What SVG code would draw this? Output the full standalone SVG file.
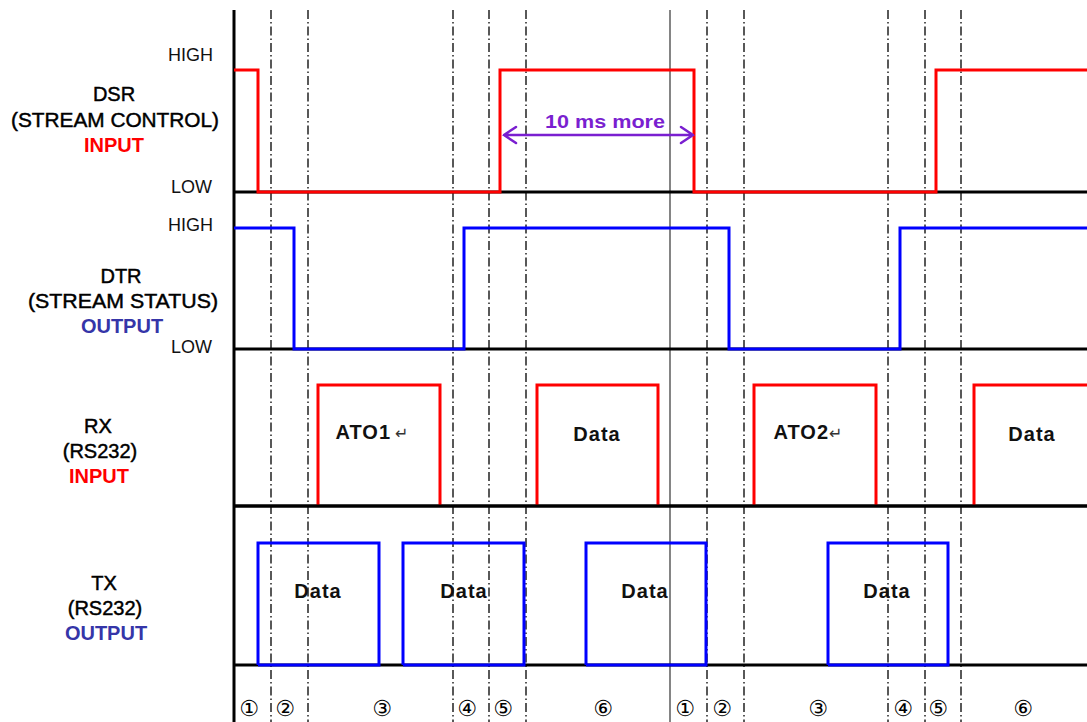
<svg xmlns="http://www.w3.org/2000/svg" width="1087" height="722" viewBox="0 0 1087 722">
<defs>
<style>
.lbl{font-family:"Liberation Sans",Arial,sans-serif;font-size:20px;fill:#000;stroke:#000;stroke-width:0.45;text-anchor:middle}
.hl{font-family:"Liberation Sans",Arial,sans-serif;font-size:18px;fill:#111;text-anchor:end}
.in{fill:#ff0000;stroke:none;font-weight:bold}
.out{fill:#3535a8;stroke:none;font-weight:bold}
.dat{font-family:"Liberation Sans",Arial,sans-serif;font-size:20px;font-weight:bold;letter-spacing:1px;fill:#111;text-anchor:middle}
.num{font-family:"DejaVu Sans",sans-serif;font-size:22px;fill:#000;text-anchor:middle}
.dd{stroke:#222;stroke-width:1.5;stroke-dasharray:9 3 1.5 3;fill:none}
.base{stroke:#000;stroke-width:3;fill:none}
.red{stroke:#ff0000;stroke-width:3;fill:none;stroke-linejoin:miter}
.blue{stroke:#0000ff;stroke-width:3;fill:none;stroke-linejoin:miter}
.arr{stroke:#7a1fd0;stroke-width:2.5;fill:none;stroke-linecap:round}
.ret{font-family:"DejaVu Sans",sans-serif;font-size:16px;font-weight:normal;letter-spacing:0;fill:#333}
</style>
</defs>
<rect width="1087" height="722" fill="#fff"/>
<g id="grid">
<path class="dd" d="M271,10V722M308,10V722M453,10V722M489,10V722M526,10V722M707,10V722M744,10V722M888,10V722M925,10V722M961,10V722"/>
<path d="M670,10V722" stroke="#333" stroke-width="1.2" fill="none"/>
</g>
<g id="connectors">
<path class="base" d="M234,10V722M234,192H1087M234,349H1087M234,506H1087M234,665H1087"/>
</g>
<g id="dsr">
<path class="red" d="M234,70H258V192H500V70H694V192H936V70H1087"/>
<text class="hl" x="213" y="61">HIGH</text>
<text class="hl" x="212" y="193">LOW</text>
<text class="lbl" x="114" y="101">DSR</text>
<text class="lbl" x="115" y="127" textLength="208" lengthAdjust="spacingAndGlyphs">(STREAM CONTROL)</text>
<text class="lbl in" x="114" y="152">INPUT</text>
</g>
<g id="dsr-arrow">
<path class="arr" d="M504,135H693M516,127L504,135L516,143M681,127L693,135L681,143"/>
<text x="605" y="128" font-family="Liberation Sans, Arial, sans-serif" font-size="19" font-weight="bold" fill="#7a1fd0" text-anchor="middle" textLength="120" lengthAdjust="spacingAndGlyphs">10 ms more</text>
</g>
<g id="dtr">
<path class="blue" d="M234,228H294V349H464V228H729V349H900V228H1087"/>
<text class="hl" x="213" y="231">HIGH</text>
<text class="hl" x="212" y="353">LOW</text>
<text class="lbl" x="121" y="283">DTR</text>
<text class="lbl" x="123" y="308" textLength="190" lengthAdjust="spacingAndGlyphs">(STREAM STATUS)</text>
<text class="lbl out" x="122" y="333">OUTPUT</text>
</g>
<g id="rx">
<path class="red" d="M318,505V385H440V505M537,505V385H658V505M754,505V385H876V505M974,505V385H1087"/>
<path class="base" d="M234,506H1087"/>
<text class="lbl" x="98" y="433">RX</text>
<text class="lbl" x="100" y="458">(RS232)</text>
<text class="lbl in" x="99" y="483">INPUT</text>
<text class="dat" x="372" y="439">ATO1<tspan class="ret" dx="4">↵</tspan></text>
<text class="dat" x="808" y="439">ATO2<tspan class="ret" dx="0">↵</tspan></text>
<text class="dat" x="597" y="441">Data</text>
<text class="dat" x="1032" y="441">Data</text>
</g>
<g id="tx">
<path class="blue" d="M258,665V543H379V665H258M403,665V543H524V665H403M586,665V543H706V665H586M828,665V543H948V665H828"/>
<text class="lbl" x="104" y="590">TX</text>
<text class="lbl" x="105" y="615">(RS232)</text>
<text class="lbl out" x="106" y="640">OUTPUT</text>
<text class="dat" x="318" y="598">Data</text>
<text class="dat" x="464" y="598">Data</text>
<text class="dat" x="645" y="598">Data</text>
<text class="dat" x="887" y="598">Data</text>
</g>
<g id="phases">
<text class="num" x="249" y="716">①</text>
<text class="num" x="285" y="716">②</text>
<text class="num" x="382" y="716">③</text>
<text class="num" x="467" y="716">④</text>
<text class="num" x="503" y="716">⑤</text>
<text class="num" x="603" y="716">⑥</text>
<text class="num" x="685" y="716">①</text>
<text class="num" x="722" y="716">②</text>
<text class="num" x="818" y="716">③</text>
<text class="num" x="903" y="716">④</text>
<text class="num" x="938" y="716">⑤</text>
<text class="num" x="1023" y="716">⑥</text>
</g>
</svg>
